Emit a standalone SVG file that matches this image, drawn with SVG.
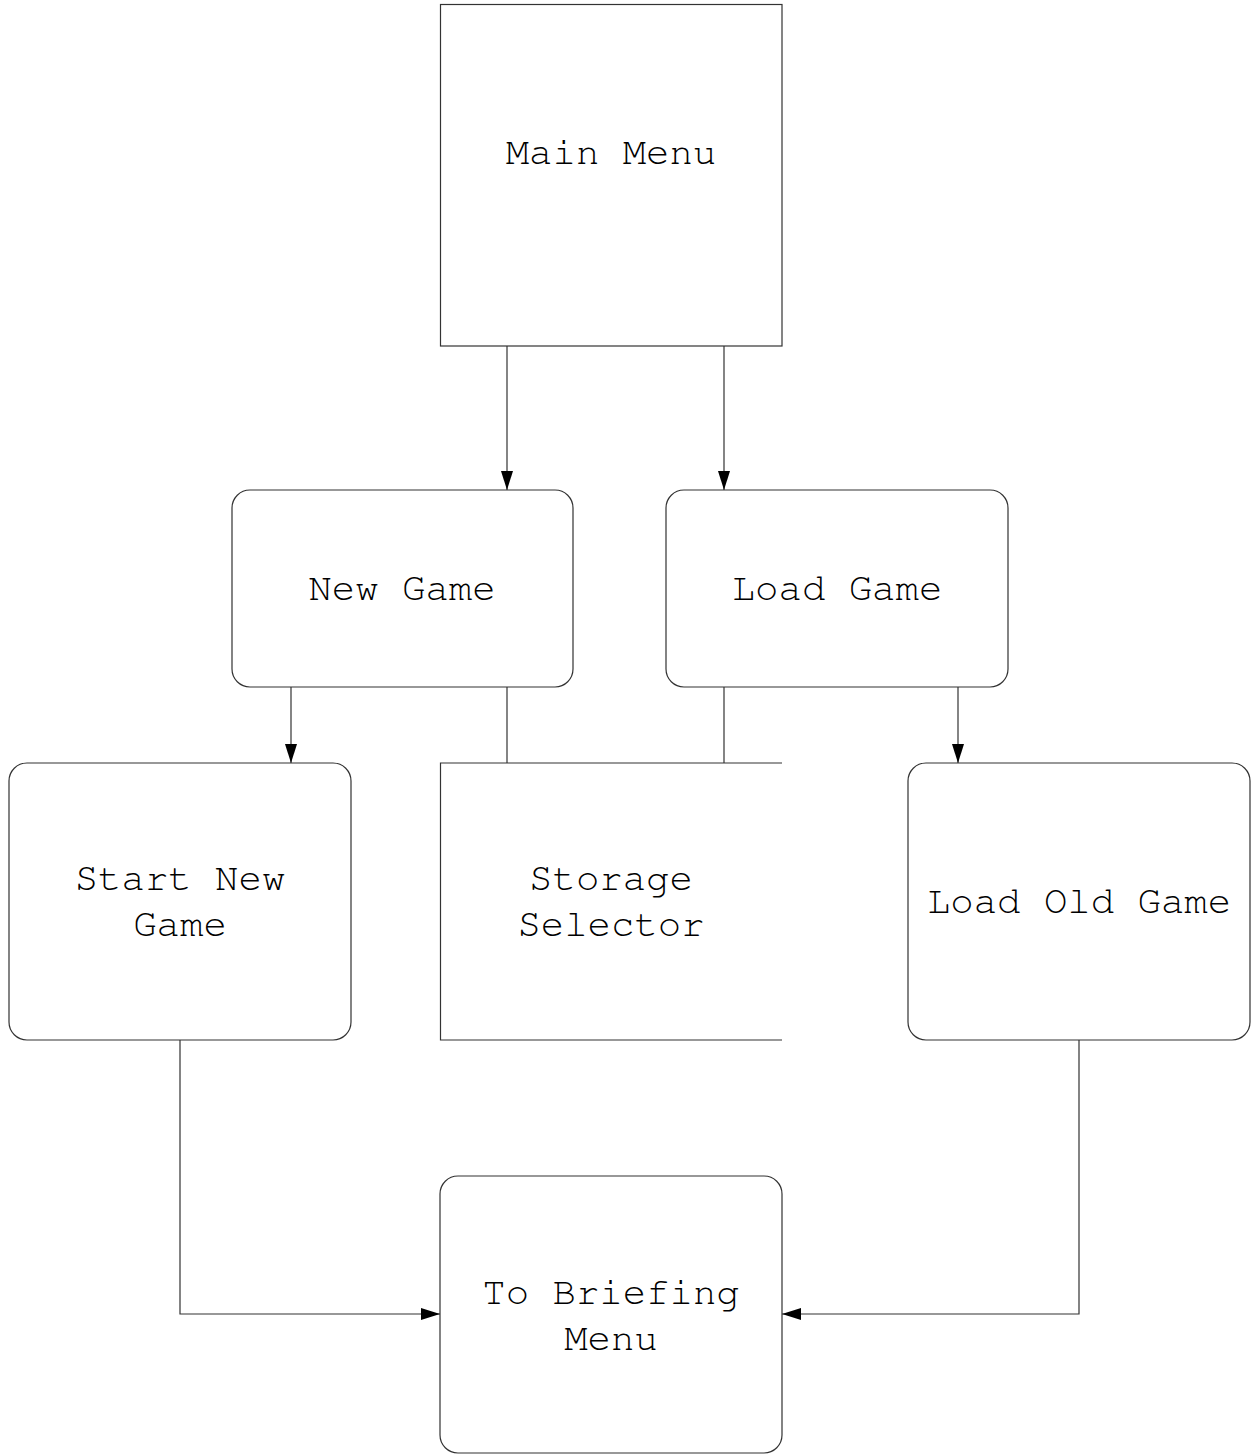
<svg xmlns="http://www.w3.org/2000/svg" width="1251" height="1456" viewBox="0 0 1251 1456">
  <style>
    .box { fill: #ffffff; stroke: #333333; stroke-width: 1.2; }
    .open { fill: none; stroke: #333333; stroke-width: 1.2; }
    .lbl { font-family: "Nimbus Mono PS", "FreeMono", "Courier New", "Liberation Mono", monospace; font-size: 39px; fill: #000000; text-anchor: middle; }
    .edge { fill: none; stroke: #333333; stroke-width: 1.2; }
  </style>
  <defs>
    <marker id="arrow" viewBox="0 0 19 12" refX="19" refY="6" markerWidth="19" markerHeight="12" markerUnits="userSpaceOnUse" orient="auto">
      <path d="M0,0 L19,6 L0,12 Z" fill="#000000"/>
    </marker>
  </defs>
  <rect width="1251" height="1456" fill="#ffffff"/>

  <!-- flow connectors -->
  <g id="connectors">
    <path class="edge" d="M507,346 V490" marker-end="url(#arrow)"/>
    <path class="edge" d="M724,346 V490" marker-end="url(#arrow)"/>
    <path class="edge" d="M291,687 V763" marker-end="url(#arrow)"/>
    <path class="edge" d="M507,687 V763"/>
    <path class="edge" d="M724,687 V763"/>
    <path class="edge" d="M958,687 V763" marker-end="url(#arrow)"/>
    <path class="edge" d="M180,1040 V1314 H440" marker-end="url(#arrow)"/>
    <path class="edge" d="M1079,1040 V1314 H782" marker-end="url(#arrow)"/>
  </g>

  <g id="main-menu">
    <rect class="box" x="440.5" y="4.5" width="341.5" height="341.5"/>
    <text class="lbl" x="611" y="164">Main Menu</text>
  </g>

  <g id="new-game">
    <rect class="box" x="232" y="490" width="341" height="197" rx="18"/>
    <text class="lbl" x="402" y="600">New Game</text>
  </g>

  <g id="load-game">
    <rect class="box" x="666" y="490" width="342" height="197" rx="18"/>
    <text class="lbl" x="837" y="600">Load Game</text>
  </g>

  <g id="start-new-game">
    <rect class="box" x="9" y="763" width="342" height="277" rx="18"/>
    <text class="lbl" x="180" y="890">Start New</text>
    <text class="lbl" x="180" y="936">Game</text>
  </g>

  <!-- storage selector: right side left open -->
  <g id="storage-selector">
    <path class="open" d="M782,763 H440.5 V1040 H782"/>
    <text class="lbl" x="611" y="890">Storage</text>
    <text class="lbl" x="611" y="936">Selector</text>
  </g>

  <g id="load-old-game">
    <rect class="box" x="908" y="763" width="342" height="277" rx="18"/>
    <text class="lbl" x="1079" y="913">Load Old Game</text>
  </g>

  <g id="to-briefing-menu">
    <rect class="box" x="440" y="1176" width="342" height="277" rx="18"/>
    <text class="lbl" x="611" y="1304">To Briefing</text>
    <text class="lbl" x="611" y="1350">Menu</text>
  </g>
</svg>
